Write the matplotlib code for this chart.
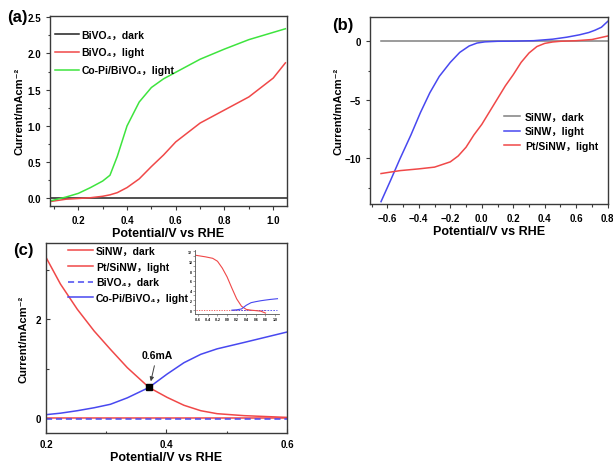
import matplotlib
matplotlib.use('Agg')
import matplotlib.pyplot as plt
from matplotlib.ticker import MultipleLocator

plt.rcParams['font.family'] = ['Liberation Sans', 'Noto Sans CJK SC', 'DejaVu Sans']
plt.rcParams['font.weight'] = 'bold'
plt.rcParams['axes.labelweight'] = 'bold'

# ---- panel (a): BiVO4 photoanode
a_x = [0.09, 0.15, 0.2, 0.25, 0.3, 0.33, 0.36, 0.4, 0.45, 0.5, 0.55, 0.6, 0.7, 0.8, 0.9, 1.0, 1.05]
a_copi = [-0.03, 0.02, 0.07, 0.15, 0.24, 0.32, 0.58, 1.0, 1.33, 1.53, 1.65, 1.74, 1.92, 2.06, 2.19, 2.29, 2.34]
a_light = [-0.04, -0.01, 0.0, 0.01, 0.03, 0.05, 0.08, 0.15, 0.27, 0.44, 0.6, 0.78, 1.04, 1.22, 1.4, 1.66, 1.87]
a_dark_x = [0.08, 1.06]
a_dark = [0.0, 0.0]

# ---- panel (b): SiNW photocathode
b_blue_x = [-0.64, -0.58, -0.52, -0.45, -0.39, -0.33, -0.27, -0.2, -0.14, -0.08, -0.03, 0.02,
            0.1, 0.2, 0.33, 0.45, 0.54, 0.62, 0.68, 0.72, 0.76, 0.8]
b_blue = [-13.7, -11.9, -10.05, -8.0, -6.1, -4.4, -3.0, -1.8, -0.95, -0.4, -0.15, -0.05,
          0.0, 0.01, 0.05, 0.18, 0.35, 0.55, 0.75, 0.95, 1.2, 1.7]
b_red_x = [-0.64, -0.52, -0.4, -0.3, -0.2, -0.15, -0.1, -0.05, 0.0, 0.05, 0.1, 0.15, 0.2,
           0.25, 0.3, 0.35, 0.4, 0.45, 0.5, 0.6, 0.7, 0.8]
b_red = [-11.3, -11.05, -10.9, -10.75, -10.3, -9.8, -9.05, -8.0, -7.1, -6.0, -4.9, -3.8, -2.85,
         -1.8, -1.0, -0.45, -0.18, -0.06, 0.0, 0.05, 0.15, 0.45]
b_dark_x = [-0.64, 0.8]
b_dark = [0.0, 0.0]

# ---- panel (c): overlap of the two
c_x = [0.2, 0.224, 0.252, 0.28, 0.307, 0.335, 0.371, 0.401, 0.429, 0.457, 0.484, 0.529, 0.6]
c_ptsinw = [3.25, 2.71, 2.2, 1.76, 1.39, 1.02, 0.62, 0.42, 0.26, 0.15, 0.09, 0.05, 0.015]
c_copi = [0.07, 0.1, 0.15, 0.21, 0.28, 0.41, 0.62, 0.89, 1.12, 1.29, 1.4, 1.53, 1.74]
c_dark_x = [0.2, 0.6]
c_sinw_dark = [0.01, 0.01]
c_bivo_dark = [-0.02, -0.02]
cross_x, cross_y = 0.371, 0.62

# inset of (c)
in_red_x = [-0.64, -0.45, -0.3, -0.2, -0.1, 0.0, 0.1, 0.2, 0.3, 0.4, 0.5, 0.6, 0.7, 0.8]
in_red = [11.2, 10.9, 10.6, 10.0, 8.6, 6.8, 4.5, 2.3, 0.8, 0.15, 0.0, -0.1, -0.2, -0.6]
in_blue_x = [0.1, 0.2, 0.3, 0.4, 0.5, 0.6, 0.7, 0.8, 0.9, 1.0, 1.05]
in_blue = [0.0, 0.07, 0.24, 1.0, 1.53, 1.74, 1.92, 2.06, 2.19, 2.29, 2.34]

RED = '#f04848'
GREEN = '#3ee43e'
BLUE = '#4848f0'
FRAME = '#3a3a3a'
XLAB = "Potential/V vs RHE"
YLAB = "Current/mAcm\u207b\u00b2"


def style(ax, direction):
  for s in ax.spines.values():
    s.set_color(FRAME)
    s.set_linewidth(1.0)
  ax.tick_params(which='both', direction=direction, labelsize=7, color=FRAME, width=0.8)
  ax.tick_params(which='major', length=3)
  ax.tick_params(which='minor', length=1.8)


fig = plt.figure(figsize=(6.13, 4.64), dpi=100)

# (a)
ax = fig.add_axes([0.0816, 0.5545, 0.386, 0.4095])
ax.plot(a_dark_x, a_dark, color='#202020', lw=1.1, label='BiVO\u2084\uff0cdark')
ax.plot(a_x, a_light, color=RED, lw=1.1, label='BiVO\u2084\uff0clight')
ax.plot(a_x, a_copi, color=GREEN, lw=1.1, label='Co-Pi/BiVO\u2084\uff0clight')
ax.set_xlim(0.084, 1.055)
ax.set_ylim(-0.1, 2.52)
ax.xaxis.set_major_locator(MultipleLocator(0.2))
ax.xaxis.set_minor_locator(MultipleLocator(0.1))
ax.yaxis.set_minor_locator(MultipleLocator(0.25))
ax.set_yticks([0, 0.5, 1.0, 1.5, 2.0, 2.5])
ax.set_yticklabels(['0.0', '0.5', '1.0', '1.5', '2.0', '2.5'])
style(ax, 'out')
ax.set_xlabel(XLAB, fontsize=9, labelpad=1.5)
ax.set_ylabel(YLAB, fontsize=8, labelpad=2)
ax.legend(loc='upper left', bbox_to_anchor=(-0.01, 0.965), frameon=False, fontsize=7.5,
          handlelength=2.3, handletextpad=0.25, labelspacing=0.75, borderaxespad=0.3)

# (b)
ax = fig.add_axes([0.6036, 0.5582, 0.3878, 0.4024])
ax.plot(b_dark_x, b_dark, color='#808080', lw=1.1, label='SiNW\uff0cdark')
ax.plot(b_blue_x, b_blue, color=BLUE, lw=1.1, label='SiNW\uff0clight')
ax.plot(b_red_x, b_red, color=RED, lw=1.1, label='Pt/SiNW\uff0clight')
ax.set_xlim(-0.71, 0.8)
ax.set_ylim(-13.9, 2.05)
ax.xaxis.set_major_locator(MultipleLocator(0.2))
ax.xaxis.set_minor_locator(MultipleLocator(0.1))
ax.yaxis.set_major_locator(MultipleLocator(5))
ax.yaxis.set_minor_locator(MultipleLocator(2.5))
style(ax, 'out')
ax.set_xlabel(XLAB, fontsize=9, labelpad=1.5)
ax.set_ylabel(YLAB, fontsize=8, labelpad=1)
ax.legend(loc='center left', bbox_to_anchor=(0.565, 0.39), frameon=False, fontsize=7.5,
          handlelength=1.5, handletextpad=0.5, labelspacing=0.45, borderaxespad=0, borderpad=0)

# (c)
ax = fig.add_axes([0.075, 0.0647, 0.3931, 0.4095])
ax.plot(c_dark_x, c_sinw_dark, color=RED, lw=1.1, label='SiNW\uff0cdark')
ax.plot(c_x, c_ptsinw, color=RED, lw=1.1, label='Pt/SiNW\uff0clight')
ax.plot(c_dark_x, c_bivo_dark, color=BLUE, lw=1.1, ls=(0, (4, 2.5)), label='BiVO\u2084\uff0cdark')
ax.plot(c_x, c_copi, color=BLUE, lw=1.1, label='Co-Pi/BiVO\u2084\uff0clight')
ax.plot([cross_x], [cross_y], marker='s', color='black', ms=4.5)
ax.annotate('0.6mA', xy=(cross_x + 0.002, cross_y + 0.07), xytext=(0.384, 1.17),
            ha='center', va='bottom', fontsize=7.5,
            arrowprops=dict(arrowstyle='-|>', color='#404040', lw=0.7, mutation_scale=6))
ax.set_xlim(0.2, 0.6)
ax.set_ylim(-0.3, 3.54)
ax.set_xticks([0.2, 0.4, 0.6])
ax.set_xticklabels(['0.2', '0.4', '0.6'])
ax.xaxis.set_minor_locator(MultipleLocator(0.1))
ax.set_yticks([0, 2])
ax.yaxis.set_minor_locator(MultipleLocator(1))
style(ax, 'in')
ax.tick_params(axis='x', pad=4)
ax.set_xlabel(XLAB, fontsize=9, labelpad=1.5)
ax.set_ylabel(YLAB, fontsize=8, labelpad=5)
ax.legend(loc='upper left', bbox_to_anchor=(0.09, 0.985), frameon=False, fontsize=7.5,
          handlelength=2.4, handletextpad=0.3, labelspacing=0.55, borderaxespad=0, borderpad=0)

# inset
axi = fig.add_axes([0.318, 0.321, 0.137, 0.137])
axi.plot([-0.64, 0.8], [0, 0], color=RED, lw=0.6, ls=(0, (1.5, 1.5)))
axi.plot([0.1, 1.05], [0, 0], color=BLUE, lw=0.6, ls=(0, (2, 1.5)))
axi.plot(in_red_x, in_red, color=RED, lw=0.8)
axi.plot(in_blue_x, in_blue, color=BLUE, lw=0.8)
axi.set_xlim(-0.67, 1.08)
axi.set_ylim(-0.8, 12.2)
axi.xaxis.set_major_locator(MultipleLocator(0.2))
axi.yaxis.set_major_locator(MultipleLocator(2))
axi.yaxis.set_minor_locator(MultipleLocator(1))
for s in ['top', 'right']:
  axi.spines[s].set_visible(False)
for s in ['left', 'bottom']:
  axi.spines[s].set_linewidth(0.6)
  axi.spines[s].set_color('#555555')
axi.tick_params(which='both', labelsize=2.5, length=1.2, width=0.4, pad=0.8, color='#555555')
axi.set_xticklabels(['%.1f' % v for v in axi.get_xticks()])

fig.text(0.028, 0.963, '(a)', fontsize=12, ha='center', va='center')
fig.text(0.56, 0.946, '(b)', fontsize=12, ha='center', va='center')
fig.text(0.0375, 0.461, '(c)', fontsize=12, ha='center', va='center')

fig.savefig('out.png', dpi=100)
